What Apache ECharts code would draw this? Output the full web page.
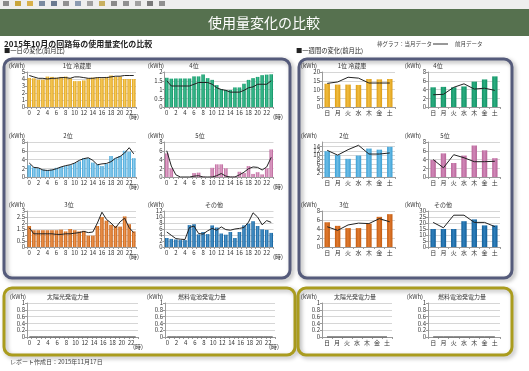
<!DOCTYPE html>
<html><head><meta charset="utf-8">
<script src="https://cdn.jsdelivr.net/npm/echarts@6/dist/echarts.min.js"></script>
<style>html,body{margin:0;padding:0;background:#fff}#c{width:529px;height:371px}</style>
</head><body><div id="c"></div>
<script>
// ---------- DATA ----------
const hours = ['0','1','2','3','4','5','6','7','8','9','10','11','12','13','14','15','16','17','18','19','20','21','22','23'];
const days = ['日','月','火','水','木','金','土'];

// hourly (current month bars / previous month line)
const fridgeHourCur  = [4.15,4.1,3.9,3.9,4.35,4.3,4.2,4.3,4.35,4.1,3.7,3.7,3.8,4.1,4.2,4.2,4.1,4.3,4.5,4.3,4.35,4.0,4.0,4.0];
const fridgeHourPrev = [4.5,4.3,4.1,4.1,4.0,4.1,4.1,4.2,4.2,4.1,4.3,4.3,4.2,4.1,4.1,4.2,4.2,4.2,4.3,4.4,4.4,4.5,4.5,4.5];
const r4HourCur  = [1.67,1.62,1.63,1.63,1.63,1.63,1.75,1.75,1.86,1.65,1.55,1.25,1.03,0.97,0.97,1.12,1.12,1.33,1.55,1.65,1.72,1.82,1.85,1.87];
const r4HourPrev = [1.5,1.2,1.2,1.2,1.2,1.2,1.3,1.4,1.4,1.4,1.3,1.1,1.0,0.95,0.85,0.85,0.85,0.95,1.1,1.15,1.3,1.3,1.3,1.5];
const r2HourCur  = [2.7,2.2,2.0,1.7,1.6,1.7,2.1,2.3,2.5,2.7,3.2,3.6,4.3,4.3,3.3,2.9,2.5,3.0,4.8,4.3,4.8,6.0,5.8,4.3];
const r2HourPrev = [3.2,2.2,2.1,1.6,1.5,1.6,1.9,2.3,2.6,2.8,3.2,3.8,4.2,4.4,3.8,2.8,3.0,3.1,3.5,4.3,4.7,5.5,6.7,5.3];
const r5HourCur  = [5.4,2.0,0,0,0,0,0.9,1.0,0.1,0,2.1,2.9,2.9,2.0,0.1,0.1,1.2,0.9,2.5,0.7,1.1,0.6,2.0,6.3];
const r5HourPrev = [6.0,2.5,0.5,0,0,0,0.2,0.3,0,0,0,0.3,0.8,0.2,0,0,0.5,1.1,1.9,2.3,2.2,1.6,2.3,4.5];
const r3HourCur  = [1.75,1.4,1.4,1.4,1.4,1.4,1.4,1.45,1.3,1.5,1.4,1.3,1.35,0.95,0.95,1.75,2.5,2.2,1.85,1.75,1.7,2.55,1.9,1.3];
const r3HourPrev = [1.6,1.1,1.1,1.1,1.1,1.1,1.05,1.05,1.1,1.1,1.15,1.2,1.3,1.2,1.25,2.0,2.9,2.3,2.0,1.6,2.1,2.4,1.6,1.2];
const otherHourCur  = [3.0,2.7,2.5,2.3,2.3,7.3,7.6,4.2,5.0,4.3,7.2,6.5,4.5,4.1,5.0,3.0,5.0,7.2,7.8,8.6,7.0,5.9,5.7,4.7];
const otherHourPrev = [5.0,3.9,2.8,2.6,2.5,6.5,7.0,4.5,4.3,5.4,6.2,5.6,6.7,5.8,5.6,6.0,6.2,6.5,8.3,11.4,10.0,7.4,8.8,8.2];

// weekly
const fridgeWeekCur  = [13.3,12.8,12.8,12.6,16.0,15.8,16.0];
const fridgeWeekPrev = [13.5,14.3,17.0,16.5,13.7,13.7,13.7];
const r4WeekCur  = [4.5,4.6,4.5,4.7,5.8,6.3,7.0];
const r4WeekPrev = [2.8,2.9,4.5,5.3,4.1,4.3,3.8];
const r2WeekCur  = [11.8,10.0,8.3,9.8,13.0,12.5,13.8];
const r2WeekPrev = [12.2,10.0,12.5,14.5,10.5,10.5,11.0];
const r5WeekCur  = [3.9,5.4,3.2,4.9,7.2,6.1,4.3];
const r5WeekPrev = [4.0,2.1,5.1,4.4,3.5,3.5,3.6];
const r3WeekCur  = [5.5,4.7,4.2,4.2,5.2,6.7,7.3];
const r3WeekPrev = [4.5,3.7,4.9,5.3,5.2,6.3,5.6];
const otherWeekCur  = [15.0,15.0,15.0,21.5,23.0,18.0,18.0];
const otherWeekPrev = [20.5,16.0,26.5,26.5,20.5,20.5,17.0];

// generation (no data)
const solarHour = [0,0,0,0,0,0,0,0,0,0,0,0,0,0,0,0,0,0,0,0,0,0,0,0];
const fuelHour  = [0,0,0,0,0,0,0,0,0,0,0,0,0,0,0,0,0,0,0,0,0,0,0,0];
const solarWeek = [0,0,0,0,0,0,0];
const fuelWeek  = [0,0,0,0,0,0,0];

// ---------- BUILD ----------
const FONT = '"Noto Sans CJK JP","Noto Sans",sans-serif';
const grids=[], xAxes=[], yAxes=[], series=[], graphics=[];

function txt(x,y,s,o){
  graphics.push({type:'text', x:x, y:y, silent:true, z:20,
    style:Object.assign({text:s, fontSize:6, fontFamily:FONT, fill:'#333', align:'center', verticalAlign:'middle'}, o||{})});
}
function rect(x,y,w,h,style,r){
  graphics.push({type:'rect', shape:{x:x,y:y,width:w,height:h,r:r||0}, style:style, silent:true, z:1});
}
function grad(c,l){
  return new echarts.graphic.LinearGradient(0,0,1,0,[{offset:0,color:c},{offset:0.45,color:l},{offset:1,color:c}]);
}
function addChart(o){
  const i = grids.length;
  grids.push({left:o.x, top:o.y, width:o.w, height:o.h});
  xAxes.push({type:'category', gridIndex:i, data:o.cats,
    axisLine:{lineStyle:{color:'#9a9a9a',width:1}},
    axisTick:{show:true, interval:0, length:2, lineStyle:{color:'#9a9a9a'}},
    axisLabel:{interval:o.li, fontSize:6, color:'#333', margin:3, fontFamily:FONT}});
  yAxes.push({type:'value', gridIndex:i, min:o.min, max:o.max, interval:o.iv,
    axisLine:{show:true, lineStyle:{color:'#9a9a9a'}},
    axisTick:{show:true, length:2, lineStyle:{color:'#9a9a9a'}},
    splitLine:{lineStyle:{color:'#d6d6d6',width:1}},
    axisLabel:{fontSize:6, color:'#333', margin:2, fontFamily:FONT}});
  series.push({type:'bar', xAxisIndex:i, yAxisIndex:i, data:o.cur, barCategoryGap:o.gap,
    itemStyle:{color:o.c ? grad(o.c,o.l) : '#999'}, silent:true});
  series.push({type:'line', xAxisIndex:i, yAxisIndex:i, data:o.prev, showSymbol:false, silent:true,
    lineStyle:{color:'#222',width:1}, z:5});
  txt(o.ux, o.y-6, '(kWh)');
  txt(o.tx, o.y-6, o.title);
  if (o.tmx) txt(o.tmx, o.y+o.h+10, '(時)');
}

// decorations
rect(0,0,529,9,{fill:'#eeeeee'});
const iconCols=['#8a8a8a','#c9a63c','#d8b04a','#7a8aa0','#6a7a90','#909090','#8a9ab0','#a0a0a0','#c8b060','#8a8a8a','#909090','#a0a0a0','#7a7a7a','#909090'];
iconCols.forEach((c,k)=>rect(3+k*12,1,6,5,{fill:c}));
rect(0,9,529,27,{fill:'#56714f'});
txt(264,22.5,'使用量変化の比較',{fontSize:14,fill:'#ffffff'});
txt(4,43.5,'2015年10月の回路毎の使用量変化の比較',{fontSize:8,fontWeight:'bold',fill:'#222',align:'left'});
txt(4,50.5,'■一日の変化(前月比)',{fontSize:6.3,fill:'#222',align:'left'});
txt(296,50.5,'■一週間の変化(前月比)',{fontSize:6.3,fill:'#222',align:'left'});
txt(377,44,'棒グラフ：当月データ',{fontSize:5.5,fill:'#444',align:'left'});
graphics.push({type:'line',shape:{x1:433,y1:44,x2:448,y2:44},style:{stroke:'#333',lineWidth:1},silent:true,z:20});
txt(455,44,'前月データ',{fontSize:5.5,fill:'#444',align:'left'});
const panelBlue={fill:'none',stroke:'#555b7b',lineWidth:3,shadowBlur:4,shadowOffsetX:2,shadowOffsetY:2,shadowColor:'rgba(0,0,0,0.35)'};
const panelOlive={fill:'none',stroke:'#aa9c1e',lineWidth:3,shadowBlur:4,shadowOffsetX:2,shadowOffsetY:2,shadowColor:'rgba(0,0,0,0.3)'};
rect(4,59,286,219,panelBlue,8);
rect(299,59,213,219,panelBlue,8);
rect(4,288,291,67,panelOlive,8);
rect(298,288,214,67,panelOlive,8);
txt(10,362,'レポート作成日：2015年11月17日',{fontSize:6,fill:'#444',align:'left'});

// hourly charts
const HC1={x:27,w:109,ux:17,tmx:134}, HC2={x:164.5,w:109,ux:156,tmx:278};
const R1={y:72,h:35}, R2={y:142,h:35}, R3={y:211,h:36};
addChart(Object.assign({},HC1,R1,{cats:hours,li:1,cur:fridgeHourCur,prev:fridgeHourPrev,min:0,max:5,iv:1,gap:'22%',c:'#dd9c14',l:'#f6cc5c',title:'1位 冷蔵庫',tx:77}));
addChart(Object.assign({},HC2,R1,{cats:hours,li:1,cur:r4HourCur,prev:r4HourPrev,min:0,max:2,iv:0.5,gap:'22%',c:'#138f64',l:'#3cbf90',title:'4位',tx:194}));
addChart(Object.assign({},HC1,R2,{cats:hours,li:1,cur:r2HourCur,prev:r2HourPrev,min:0,max:8,iv:2,gap:'22%',c:'#3a9fd4',l:'#92d0f0',title:'2位',tx:68}));
addChart(Object.assign({},HC2,R2,{cats:hours,li:1,cur:r5HourCur,prev:r5HourPrev,min:0,max:8,iv:2,gap:'22%',c:'#b86498',l:'#e0a2c8',title:'5位',tx:200}));
addChart(Object.assign({},HC1,R3,{cats:hours,li:1,cur:r3HourCur,prev:r3HourPrev,min:0,max:3,iv:0.5,gap:'22%',c:'#c45c10',l:'#ec9550',title:'3位',tx:69}));
addChart(Object.assign({},HC2,R3,{cats:hours,li:1,cur:otherHourCur,prev:otherHourPrev,min:0,max:12,iv:2,gap:'22%',c:'#125e98',l:'#4a95cc',title:'その他',tx:214}));

// weekly charts
const WC1={x:322,w:73,ux:309}, WC2={x:428,w:72,ux:413};
addChart(Object.assign({},WC1,R1,{cats:days,li:0,cur:fridgeWeekCur,prev:fridgeWeekPrev,min:0,max:20,iv:5,gap:'48%',c:'#dd9c14',l:'#f0bd40',title:'1位 冷蔵庫',tx:352}));
addChart(Object.assign({},WC2,R1,{cats:days,li:0,cur:r4WeekCur,prev:r4WeekPrev,min:0,max:8,iv:2,gap:'48%',c:'#138f64',l:'#2aae80',title:'4位',tx:438}));
addChart(Object.assign({},WC1,R2,{cats:days,li:0,cur:r2WeekCur,prev:r2WeekPrev,min:0,max:16,iv:2,gap:'48%',c:'#3a9fd4',l:'#6dbde6',title:'2位',tx:344}));
addChart(Object.assign({},WC2,R2,{cats:days,li:0,cur:r5WeekCur,prev:r5WeekPrev,min:0,max:8,iv:2,gap:'48%',c:'#b86498',l:'#d088b8',title:'5位',tx:445}));
addChart(Object.assign({},WC1,R3,{cats:days,li:0,cur:r3WeekCur,prev:r3WeekPrev,min:0,max:8,iv:2,gap:'48%',c:'#c45c10',l:'#e07a30',title:'3位',tx:344}));
addChart(Object.assign({},WC2,R3,{cats:days,li:0,cur:otherWeekCur,prev:otherWeekPrev,min:0,max:30,iv:5,gap:'48%',c:'#125e98',l:'#3080bc',title:'その他',tx:443}));

// generation charts
const RB={y:303,h:34};
addChart(Object.assign({},RB,{x:27,w:111,ux:18,tmx:138,cats:hours,li:1,cur:solarHour,prev:solarHour,min:0,max:1,iv:0.2,gap:'22%',title:'太陽光発電力量',tx:68}));
addChart(Object.assign({},RB,{x:165,w:110,ux:155,tmx:274,cats:hours,li:1,cur:fuelHour,prev:fuelHour,min:0,max:1,iv:0.2,gap:'22%',title:'燃料電池発電力量',tx:202}));
addChart(Object.assign({},RB,{x:322,w:70,ux:309,cats:days,li:0,cur:solarWeek,prev:solarWeek,min:0,max:1,iv:0.2,gap:'48%',title:'太陽光発電力量',tx:355}));
addChart(Object.assign({},RB,{x:428,w:72,ux:415,cats:days,li:0,cur:fuelWeek,prev:fuelWeek,min:0,max:1,iv:0.2,gap:'48%',title:'燃料電池発電力量',tx:462}));

const chart = echarts.init(document.getElementById('c'), null, {renderer:'canvas'});
chart.setOption({
  animation:false,
  backgroundColor:'#ffffff',
  textStyle:{fontFamily:FONT},
  grid:grids, xAxis:xAxes, yAxis:yAxes, series:series, graphic:graphics
});
</script></body></html>
